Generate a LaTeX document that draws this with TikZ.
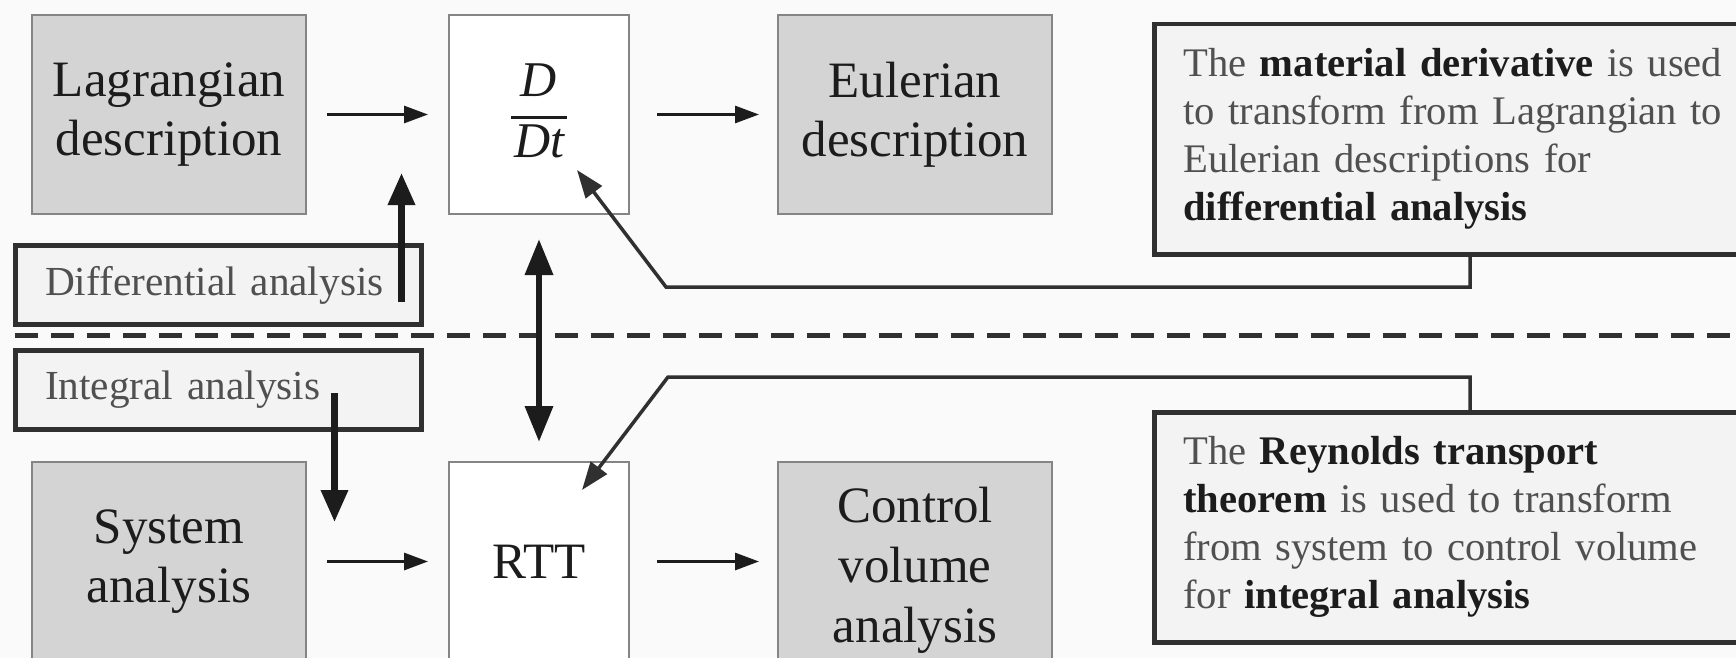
\documentclass[tikz,border=0pt]{standalone}
\usepackage{fontspec}
\setmainfont{Liberation Serif}
\usetikzlibrary{arrows.meta,calc}
\definecolor{bg}{HTML}{FAFAFA}
\definecolor{boxgray}{HTML}{D4D4D4}
\definecolor{boxedge}{HTML}{858585}
\definecolor{ink}{HTML}{1C1C1C}
\definecolor{soft}{HTML}{505050}
\definecolor{panel}{HTML}{F3F3F3}
\definecolor{frame}{HTML}{303030}
\newcommand\keyw[1]{\textcolor{ink}{\bfseries #1}}
\begin{document}
\begin{tikzpicture}[x=1pt,y=-1pt,
  gbox/.style={draw=boxedge, line width=2pt, fill=boxgray, minimum width=274pt, minimum height=199pt, inner sep=0pt, align=center, text=ink, font=\fontsize{51}{59}\selectfont},
  wbox/.style={gbox, fill=white, minimum width=180pt},
  tagbox/.style={draw=frame, line width=5pt, fill=panel, text width=346pt, inner xsep=30pt, inner ysep=0pt, minimum height=79pt, align=left, text=soft, font=\fontsize{41.3}{46}\selectfont},
  note/.style={draw=frame, line width=4.5pt, fill=panel, text width=562pt, inner xsep=29pt, inner ysep=0pt, minimum height=230pt, align=left, text=soft, font=\fontsize{40.6}{48}\selectfont},
  flow/.style={line width=3pt, draw=ink, -{Triangle[length=24pt,width=17pt]}},
  heavy/.style={line width=6.5pt, draw=ink, -{Triangle[length=32pt,width=26pt]}},
  lead/.style={line width=3.5pt, draw=frame, -{Triangle[length=28pt,width=20pt]}},
  sepline/.style={line width=5pt, draw=frame, dash pattern=on 23pt off 13pt},
]
\clip (0,0) rectangle (1736,658);
\fill[bg] (0,0) rectangle (1736,658);

% main boxes
\node[gbox] (lag) at (169,114.5) {\raisebox{-3pt}{Lagrangian}\\\raisebox{-3pt}{description}};
\node[wbox, font=\fontsize{50}{60}\selectfont] (ddt) at (539,114.5)
  {\vbox{\hbox to 56pt{\hss\itshape D\hss}\kern19pt\hrule height 3pt\kern6pt\hbox to 56pt{\hss\itshape Dt\hss}\kern7pt}};
\node[gbox] (eul) at (915,114.5) {\raisebox{-3pt}{Eulerian}\\\raisebox{-3pt}{description}};

\node[gbox] (sys) at (169,561.5) {System\\analysis};
\node[wbox] (rtt) at (539,561.5) {RTT};
\node[gbox, font=\fontsize{51}{60}\selectfont, minimum height=217pt] (cv) at (915,570.5) {Control\\volume\\analysis};

% label boxes
\node[tagbox] (diff) at (218,285) {Differential analysis};
\node[tagbox] (integ) at (218,390) {Integral analysis};

% callouts
\node[note, anchor=north west] (mat) at (1152,22)
  {The \keyw{material derivative} is used\\to transform from Lagrangian to\\Eulerian descriptions for\\\keyw{differential analysis}};
\node[note, anchor=north west] (rey) at (1152,410)
  {The \keyw{Reynolds transport}\\\keyw{theorem} is used to transform\\from system to control volume\\for \keyw{integral analysis}};

% dashed separator
\coordinate (sepL) at (15,335);
\coordinate (sepR) at (1745,335);
\draw[sepline] (sepL) -- (sepR);

% flow arrows
\draw[flow] ([xshift=20pt]lag.east) -- ([xshift=-20pt]ddt.west);
\draw[flow] ([xshift=27pt]ddt.east) -- ([xshift=-18pt]eul.west);
\draw[flow] ([xshift=20pt]sys.east) -- ([xshift=-20pt]rtt.west);
\draw[flow] ([xshift=27pt]rtt.east) -- ([xshift=-18pt]cv.west |- rtt.west);

% heavy arrows
\draw[heavy] ([xshift=-22pt,yshift=-17pt]diff.east) -- ++(0,-129);
\draw[heavy] ([xshift=-89pt,yshift=-3pt]integ.east) -- ++(0,129);
\draw[line width=6.5pt, draw=ink, {Triangle[length=36pt,width=27pt]}-{Triangle[length=36pt,width=27pt]}]
  ([yshift=-24pt]ddt.south) -- ([yshift=19pt]rtt.north);

% leader lines
\coordinate (c1a) at (1470,287);
\coordinate (c1b) at (666,287);
\coordinate (c1tip) at (577,170);
\draw[lead, line join=miter] (mat.south -| c1a) -- (c1a) -- (c1b) -- (c1tip);
\coordinate (c2a) at (1470,377);
\coordinate (c2b) at (668,377);
\coordinate (c2tip) at (582,490);
\draw[lead, line join=miter] (rey.north -| c2a) -- (c2a) -- (c2b) -- (c2tip);
\end{tikzpicture}
\end{document}
